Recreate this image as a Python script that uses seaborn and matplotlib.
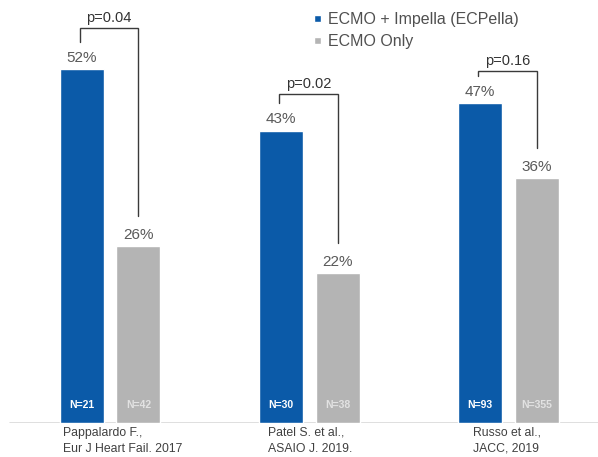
import matplotlib
matplotlib.use("Agg")
import matplotlib.pyplot as plt
import seaborn as sns
import pandas as pd

# ---- data ----
studies = ["Pappalardo F.,\nEur J Heart Fail. 2017",
           "Patel S. et al.,\nASAIO J. 2019.",
           "Russo et al.,\nJACC, 2019"]
groups = ["ECMO + Impella (ECPella)", "ECMO Only"]
ecpella_pct = [52, 43, 47]
ecmo_pct = [26, 22, 36]
ecpella_n = [21, 30, 93]
ecmo_n = [42, 38, 355]
p_values = ["p=0.04", "p=0.02", "p=0.16"]

# ---- style ----
sns.set_style("white")
plt.rcParams["font.family"] = ["Liberation Sans", "DejaVu Sans"]
BLUE = "#0b5aa8"
GRAY = "#b4b4b4"
TXT = "#404040"

df = pd.DataFrame({
    "study": studies * 2,
    "group": [groups[0]] * 3 + [groups[1]] * 3,
    "value": ecpella_pct + ecmo_pct,
})

fig = plt.figure(figsize=(5.98, 4.57), dpi=100)
ax = fig.add_axes([0, 34 / 457, 1, 423 / 457])

sns.barplot(data=df, x="study", y="value", hue="group", hue_order=groups,
            order=studies, palette=[BLUE, GRAY], saturation=1,
            width=0.568, gap=0.222, ax=ax, zorder=3)

ax.set_ylim(0, 62.2)
ax.set_xlim(-0.553, 2.449)
ax.set_axis_off()

# baseline
ax.axhline(0, xmin=10 / 598, xmax=1, color="#d9d9d9", lw=1.2, zorder=1)

cont_blue, cont_gray = ax.containers[0], ax.containers[1]

# percent labels
ax.bar_label(cont_blue, labels=[f"{v}%" for v in ecpella_pct], padding=3,
             color="#595959", fontsize=11)
ax.bar_label(cont_gray, labels=[f"{v}%" for v in ecmo_pct], padding=3,
             color="#595959", fontsize=11)

# N labels inside bars
for bars, ns, col in [(cont_blue, ecpella_n, "white"), (cont_gray, ecmo_n, "#e2e2e2")]:
    for b, n in zip(bars, ns):
        ax.text(b.get_x() + b.get_width() / 2, 2.65, f"N={n}", ha="center",
                va="center", color=col, fontsize=7.5, fontweight="bold", zorder=4)

# significance brackets
bracket_top = [58.1, 48.4, 51.8]
for i in range(3):
    bb, bg = cont_blue[i], cont_gray[i]
    xl = bb.get_x() + bb.get_width() / 2 - 0.01
    xr = bg.get_x() + bg.get_width() / 2
    top = bracket_top[i]
    ax.plot([xl, xl, xr, xr], [ecpella_pct[i] + 4.0, top, top, ecmo_pct[i] + 4.5],
            color="#3a3a3a", lw=1.0, zorder=5, solid_joinstyle="miter")
    ax.text((xl + xr) / 2, top + 0.45, p_values[i], ha="center", va="bottom",
            color="#333333", fontsize=10.5)

# category labels
label_dx = [-0.237, -0.21, -0.178]
for i, s in enumerate(studies):
    ax.text(i + label_dx[i], -0.55, s, ha="left", va="top", color=TXT,
            fontsize=8.8, linespacing=1.45, clip_on=False)

# legend
handles, labels = ax.get_legend_handles_labels()
ax.legend(handles, labels, loc="upper left", frameon=False,
          bbox_to_anchor=(314 / 598, 1 - 12 / 457), bbox_transform=fig.transFigure,
          borderaxespad=0, borderpad=0, handlelength=0.45, handleheight=0.32,
          handletextpad=0.4, labelspacing=0.44, fontsize=11.5,
          labelcolor="#505050")

fig.savefig("out.png", dpi=100)
